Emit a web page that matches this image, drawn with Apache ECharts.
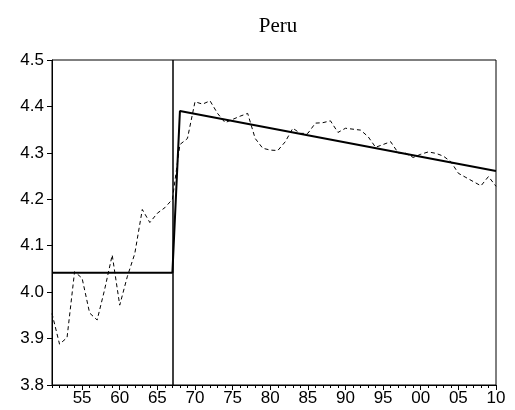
<!DOCTYPE html>
<html>
<head>
<meta charset="utf-8">
<script src="https://cdn.jsdelivr.net/npm/echarts@6/dist/echarts.min.js"></script>
<style>
    html, body { margin: 0; padding: 0; background: #fff; }
    #chart { width: 515px; height: 410px; }
</style>
</head>
<body>
<div id="chart"></div>
<script>
// annual observations, 1951-2010
const years = [];
for (let y = 1951; y <= 2010; y++) years.push(y);
const actual = [
    3.954, 3.888, 3.902, 4.044, 4.030, 3.955, 3.940, 4.006, 4.080, 3.972,
    4.033, 4.083, 4.178, 4.150, 4.170, 4.182, 4.200, 4.318, 4.331, 4.410,
    4.405, 4.412, 4.385, 4.365, 4.372, 4.379, 4.385, 4.331, 4.310, 4.306,
    4.305, 4.324, 4.353, 4.342, 4.342, 4.364, 4.365, 4.369, 4.344, 4.353,
    4.351, 4.349, 4.335, 4.312, 4.318, 4.324, 4.300, 4.299, 4.290, 4.297,
    4.302, 4.299, 4.293, 4.281, 4.256, 4.247, 4.238, 4.229, 4.249, 4.228
];
// fitted break-trend line
const fitYears = [1951, 1967, 1968, 2010];
const fitValues = [4.042, 4.042, 4.390, 4.261];
const breakYear = 1967;
const majorTicks = [1955, 1960, 1965, 1970, 1975, 1980, 1985, 1990, 1995, 2000, 2005, 2010];

const chart = echarts.init(document.getElementById("chart"));

const sans = "Liberation Sans, Arial, sans-serif";
const baseX = {
    type: "value",
    min: 1951,
    max: 2010,
    position: "bottom",
    splitLine: { show: false }
};

chart.setOption({
    animation: false,
    title: {
        text: "Peru",
        left: 273,
        textAlign: "center",
        top: 11,
        textStyle: { fontFamily: "Liberation Serif, Times New Roman, serif", fontWeight: "normal", fontSize: 21, color: "#000" }
    },
    grid: {
        left: 52, right: 19, top: 60, bottom: 25,
        show: true, borderColor: "#000", borderWidth: 1, backgroundColor: "#fff"
    },
    xAxis: [
        Object.assign({}, baseX, {
            axisLine: { lineStyle: { color: "#000", width: 1 } },
            axisTick: { customValues: majorTicks, length: 5, lineStyle: { color: "#000" } },
            axisLabel: {
                customValues: majorTicks,
                color: "#000", fontFamily: sans, fontSize: 17, margin: 5,
                formatter: v => String(Math.round(v) % 100).padStart(2, "0")
            }
        }),
        Object.assign({}, baseX, {
            axisLine: { show: false },
            axisTick: { customValues: years, length: 3, lineStyle: { color: "#000" } },
            axisLabel: { show: false }
        })
    ],
    yAxis: {
        type: "value",
        min: 3.8,
        max: 4.5,
        interval: 0.1,
        splitLine: { show: false },
        axisLine: { show: true, lineStyle: { color: "#000" } },
        axisTick: { length: 5, lineStyle: { color: "#000" } },
        axisLabel: { color: "#000", fontFamily: sans, fontSize: 17, margin: 8, formatter: v => v.toFixed(1) }
    },
    series: [
        {
            type: "line",
            data: years.map((y, i) => [y, actual[i]]),
            symbol: "none",
            lineStyle: { color: "#000", width: 1, type: [4, 3] },
            z: 2
        },
        {
            type: "line",
            data: fitYears.map((y, i) => [y, fitValues[i]]),
            symbol: "none",
            lineStyle: { color: "#000", width: 2 },
            z: 3,
            markLine: {
                silent: true,
                symbol: "none",
                label: { show: false },
                lineStyle: { color: "#000", width: 1.5, type: "solid" },
                data: [{ xAxis: breakYear }]
            }
        }
    ]
});
</script>
</body>
</html>
